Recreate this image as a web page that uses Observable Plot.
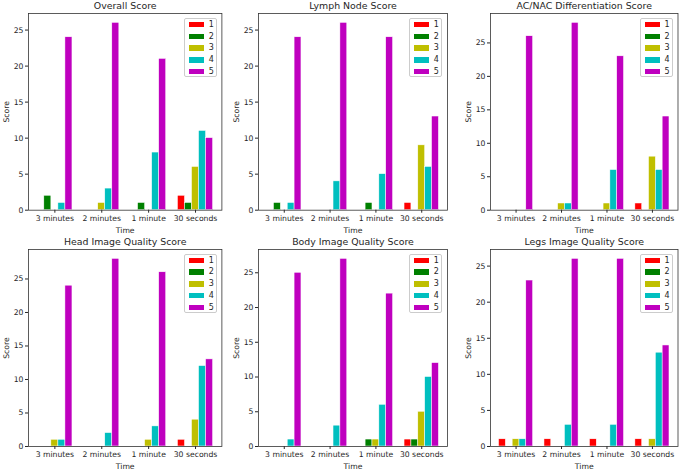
<!DOCTYPE html>
<html>
<head>
<meta charset="utf-8">
<script src="https://cdn.jsdelivr.net/npm/d3@7"></script>
<script src="https://cdn.jsdelivr.net/npm/@observablehq/plot@0.6"></script>
<style>
  html, body { margin: 0; padding: 0; background: #fff; }
  #chart { position: relative; width: 685px; height: 471px; background: #fff; font-family: "DejaVu Sans", sans-serif; overflow: hidden; }
  .panel { position: absolute; }
  .legend { position: absolute; background: rgba(255,255,255,0.85); border: 0.8px solid #cccccc; border-radius: 2px; box-sizing: border-box; }
  .legend .row { position: absolute; left: 0; height: 11px; width: 100%; }
  .legend .sw { position: absolute; left: 3.5px; top: 3px; width: 15.5px; height: 5.5px; }
  .legend .lb { position: absolute; left: 23.5px; top: 0; font-size: 8px; line-height: 11px; color: #262626; }
</style>
</head>
<body>
<div id="chart"></div>
<script>
// ---- data ----
const times = ["3 minutes", "2 minutes", "1 minute", "30 seconds"];
const scores = ["1", "2", "3", "4", "5"];
const colors = ["#ff0000", "#008000", "#bfbf00", "#00bfbf", "#bf00bf"];
const yTicks = [0, 5, 10, 15, 20, 25];

// rows: time; columns: score 1..5 counts
const overallScore = [[0, 2, 0, 1, 24], [0, 0, 1, 3, 26], [0, 1, 0, 8, 21], [2, 1, 6, 11, 10]];
const lymphNodeScore = [[0, 1, 0, 1, 24], [0, 0, 0, 4, 26], [0, 1, 0, 5, 24], [1, 0, 9, 6, 13]];
const acNacScore = [[0, 0, 0, 0, 26], [0, 0, 1, 1, 28], [0, 0, 1, 6, 23], [1, 0, 8, 6, 14]];
const headScore = [[0, 0, 1, 1, 24], [0, 0, 0, 2, 28], [0, 0, 1, 3, 26], [1, 0, 4, 12, 13]];
const bodyScore = [[0, 0, 0, 1, 25], [0, 0, 0, 3, 27], [0, 1, 1, 6, 22], [1, 1, 5, 10, 12]];
const legsScore = [[1, 0, 1, 1, 23], [1, 0, 0, 3, 26], [1, 0, 0, 3, 26], [1, 0, 1, 13, 14]];

const titles = ["Overall Score", "Lymph Node Score", "AC/NAC Differentiation Score",
                "Head Image Quality Score", "Body Image Quality Score", "Legs Image Quality Score"];
const datasets = [overallScore, lymphNodeScore, acNacScore, headScore, bodyScore, legsScore];

// ---- layout (frame boxes in page pixels) ----
const colX = [[28.3, 221.7], [257.7, 446.7], [490, 677.5]];
const rowY = [[13.3, 210], [249, 446]];
const ml = 30, mr = 4, mt = 14, mb = 26;
const W = 0.15; // bar width in category units
const chart = document.getElementById("chart");

datasets.forEach((vals, p) => {
  const [fx0, fx1] = colX[p % 3];
  const [fy0, fy1] = rowY[Math.floor(p / 3)];
  const fw = fx1 - fx0, fh = fy1 - fy0;
  const rows = [];
  vals.forEach((r, ti) => r.forEach((v, k) => rows.push({ti, k, v, time: times[ti], score: scores[k]})));
  const ymax = d3.max(rows, d => d.v);
  const xlo = -2.5 * W, xhi = times.length - 1 + 2.5 * W;
  const xpad = (xhi - xlo) * 0.05;

  const plot = Plot.plot({
    width: fw + ml + mr,
    height: fh + mt + mb,
    marginLeft: ml, marginRight: mr, marginTop: mt, marginBottom: mb,
    style: {fontFamily: "DejaVu Sans", fontSize: "7.7px", color: "#262626", background: "transparent", overflow: "visible"},
    x: {type: "linear", domain: [xlo - xpad, xhi + xpad]},
    y: {domain: [0, ymax * 1.05]},
    color: {type: "identity"},
    marks: [
      Plot.rectY(rows.filter(d => d.v > 0), {
        x1: d => d.ti + (d.k - 2) * W - W / 2,
        x2: d => d.ti + (d.k - 2) * W + W / 2,
        y1: 0, y2: "v",
        fill: d => colors[d.k],
        stroke: "white", strokeWidth: 0.5
      }),
      Plot.axisX({ticks: times.map((t, i) => i), tickFormat: i => times[i], tickSize: 3, tickPadding: 2, label: null, fontSize: 7.7}),
      Plot.axisY({ticks: yTicks.filter(t => t <= ymax * 1.05), tickSize: 3, tickPadding: 2, label: null, fontSize: 7.7}),
      Plot.text([titles[p]], {text: d => d, frameAnchor: "top", lineAnchor: "middle", dy: -8, fontSize: 9.4, fill: "#262626"}),
      Plot.text(["Score"], {text: d => d, frameAnchor: "left", textAnchor: "middle", lineAnchor: "middle", dx: -22, rotate: -90, fontSize: 7.7, fill: "#262626"}),
      Plot.text(["Time"], {text: d => d, frameAnchor: "bottom", lineAnchor: "middle", dy: 20, fontSize: 7.7, fill: "#262626"}),
      Plot.frame({stroke: "#333", strokeWidth: 0.8})
    ]
  });
  plot.classList.add("panel");
  plot.style.left = (fx0 - ml) + "px";
  plot.style.top = (fy0 - mt) + "px";
  chart.appendChild(plot);

  // legend (upper right)
  const lg = document.createElement("div");
  lg.className = "legend";
  const lw = 33, lh = 59;
  lg.style.width = lw + "px";
  lg.style.height = lh + "px";
  lg.style.left = (fx1 - 4.5 - lw) + "px";
  lg.style.top = (fy0 + 4.5) + "px";
  scores.forEach((s, k) => {
    const row = document.createElement("div");
    row.className = "row";
    row.style.top = (0 + k * 11.8) + "px";
    const sw = document.createElement("div");
    sw.className = "sw";
    sw.style.background = colors[k];
    const lb = document.createElement("div");
    lb.className = "lb";
    lb.textContent = s;
    row.appendChild(sw);
    row.appendChild(lb);
    lg.appendChild(row);
  });
  chart.appendChild(lg);
});
</script>
</body>
</html>
